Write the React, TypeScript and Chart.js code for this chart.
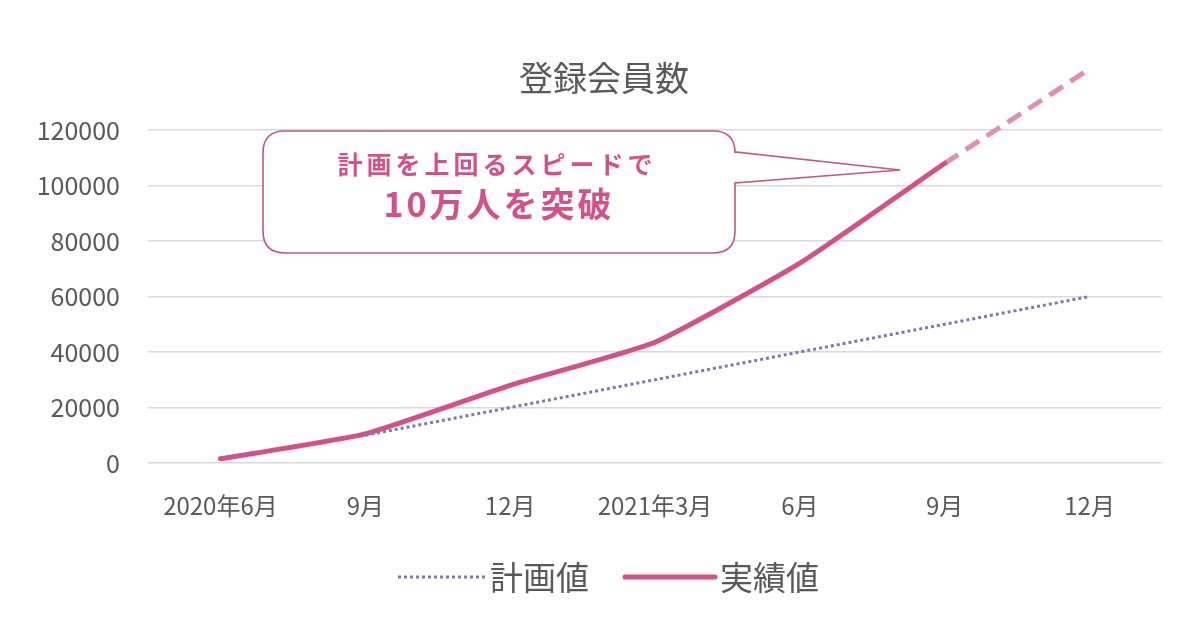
import React, { useEffect, useRef } from "react";
import { Chart, registerables } from "chart.js";

Chart.register(...registerables);

const categories = ["2020年6月", "9月", "12月", "2021年3月", "6月", "9月", "12月"];
const planValues = [null, 10000, 20000, 30000, 40000, 50000, 60000];
const actualValues = [1500, 10500, 28000, 43500, 72000, 108000, null];
const forecastValues = [null, null, null, null, null, 108000, 142000];
const yTicks = [0, 20000, 40000, 60000, 80000, 100000, 120000];

const chartTitle = "登録会員数";
const planLabel = "計画値";
const actualLabel = "実績値";
const calloutLine1 = "計画を上回るスピードで";
const calloutLine2 = "10万人を突破";

const FONT = '"Noto Sans CJK JP", "Noto Sans", sans-serif';
const GRAY = "#595959";
const PINK = "#d4508a";
const PLAN = "#7a7aaa";

const decorPlugin = {
  id: "decor",
  afterDatasetsDraw(chart: any) {
    const ctx = chart.ctx;
    ctx.save();
    const x0 = 263, y0 = 131, x1 = 735, y1 = 253, r = 22;
    ctx.beginPath();
    ctx.moveTo(x0 + r, y0);
    ctx.lineTo(x1 - r, y0);
    ctx.quadraticCurveTo(x1, y0, x1, y0 + r);
    ctx.lineTo(x1, 152);
    ctx.lineTo(900, 170);
    ctx.lineTo(x1, 183);
    ctx.lineTo(x1, y1 - r);
    ctx.quadraticCurveTo(x1, y1, x1 - r, y1);
    ctx.lineTo(x0 + r, y1);
    ctx.quadraticCurveTo(x0, y1, x0, y1 - r);
    ctx.lineTo(x0, y0 + r);
    ctx.quadraticCurveTo(x0, y0, x0 + r, y0);
    ctx.closePath();
    ctx.fillStyle = "#ffffff";
    ctx.fill();
    ctx.lineWidth = 1.6;
    ctx.strokeStyle = "#c0568a";
    ctx.stroke();
    ctx.fillStyle = PINK;
    ctx.textAlign = "center";
    ctx.textBaseline = "middle";
    ctx.font = `bold 25px ${FONT}`;
    (ctx as any).letterSpacing = "4px";
    ctx.fillText(calloutLine1, 497, 164);
    ctx.font = `bold 34px ${FONT}`;
    (ctx as any).letterSpacing = "3px";
    ctx.fillText(calloutLine2, 499, 204);
    (ctx as any).letterSpacing = "0px";
    ctx.restore();
  },
  afterDraw(chart: any) {
    const ctx = chart.ctx;
    ctx.save();
    ctx.fillStyle = GRAY;
    ctx.font = `34px ${FONT}`;
    ctx.textAlign = "center";
    ctx.textBaseline = "middle";
    ctx.fillText(chartTitle, 604, 78);
    const ds = chart.data.datasets;
    const items = [
      { d: ds[0], x: 398, w: 87, tx: 490 },
      { d: ds[1], x: 625, w: 90, tx: 720 },
    ];
    const ly = 577;
    for (const it of items) {
      ctx.beginPath();
      ctx.setLineDash(it.d.borderDash || []);
      ctx.lineWidth = it.d.borderWidth;
      ctx.strokeStyle = it.d.borderColor;
      ctx.lineCap = it.d.borderCapStyle || "butt";
      ctx.moveTo(it.x, ly);
      ctx.lineTo(it.x + it.w, ly);
      ctx.stroke();
      ctx.setLineDash([]);
      ctx.fillStyle = GRAY;
      ctx.font = `33px ${FONT}`;
      ctx.textAlign = "left";
      ctx.fillText(it.d.label, it.tx, ly);
    }
    ctx.restore();
  },
};

export default function App() {
  const ref = useRef<HTMLCanvasElement>(null);
  useEffect(() => {
    document.body.style.margin = "0";
    const chart = new Chart(ref.current!, {
      type: "line",
      data: {
        labels: categories,
        datasets: [
          {
            label: planLabel,
            data: planValues,
            borderColor: PLAN,
            borderWidth: 3,
            borderDash: [3, 3],
            pointRadius: 0,
            fill: false,
            tension: 0,
          },
          {
            label: actualLabel,
            data: actualValues,
            borderColor: PINK,
            borderWidth: 5,
            borderCapStyle: "round",
            pointRadius: 0,
            fill: false,
            tension: 0.15,
          },
          {
            label: "予測",
            data: forecastValues,
            borderColor: "#e48db2",
            borderWidth: 5,
            borderDash: [16, 9],
            pointRadius: 0,
            fill: false,
            clip: false,
            tension: 0,
          },
        ],
      } as any,
      options: {
        responsive: false,
        animation: false,
        layout: { padding: { top: 130, right: 38, bottom: 0, left: 0 } },
        plugins: { legend: { display: false }, title: { display: false }, tooltip: { enabled: false } },
        scales: {
          x: {
            offset: true,
            grid: { display: false },
            border: { display: false },
            ticks: { color: GRAY, font: { family: FONT, size: 24 }, padding: 20, maxRotation: 0 },
            afterFit: (s: any) => { s.height = 167; },
          },
          y: {
            min: 0,
            max: 120000,
            afterBuildTicks: (s: any) => { s.ticks = yTicks.map((v) => ({ value: v })); },
            grid: { color: "#d9d9d9", lineWidth: 1.5, drawTicks: false },
            border: { display: false },
            ticks: { color: GRAY, font: { family: FONT, size: 25 }, padding: 28, callback: (v: any) => String(v) },
            afterFit: (s: any) => { s.width = 148; },
          },
        },
      } as any,
      plugins: [decorPlugin],
    });
    return () => chart.destroy();
  }, []);
  return (
    <div style={{ width: 1200, height: 630, background: "#fff" }}>
      <canvas ref={ref} width={1200} height={630} />
    </div>
  );
}
